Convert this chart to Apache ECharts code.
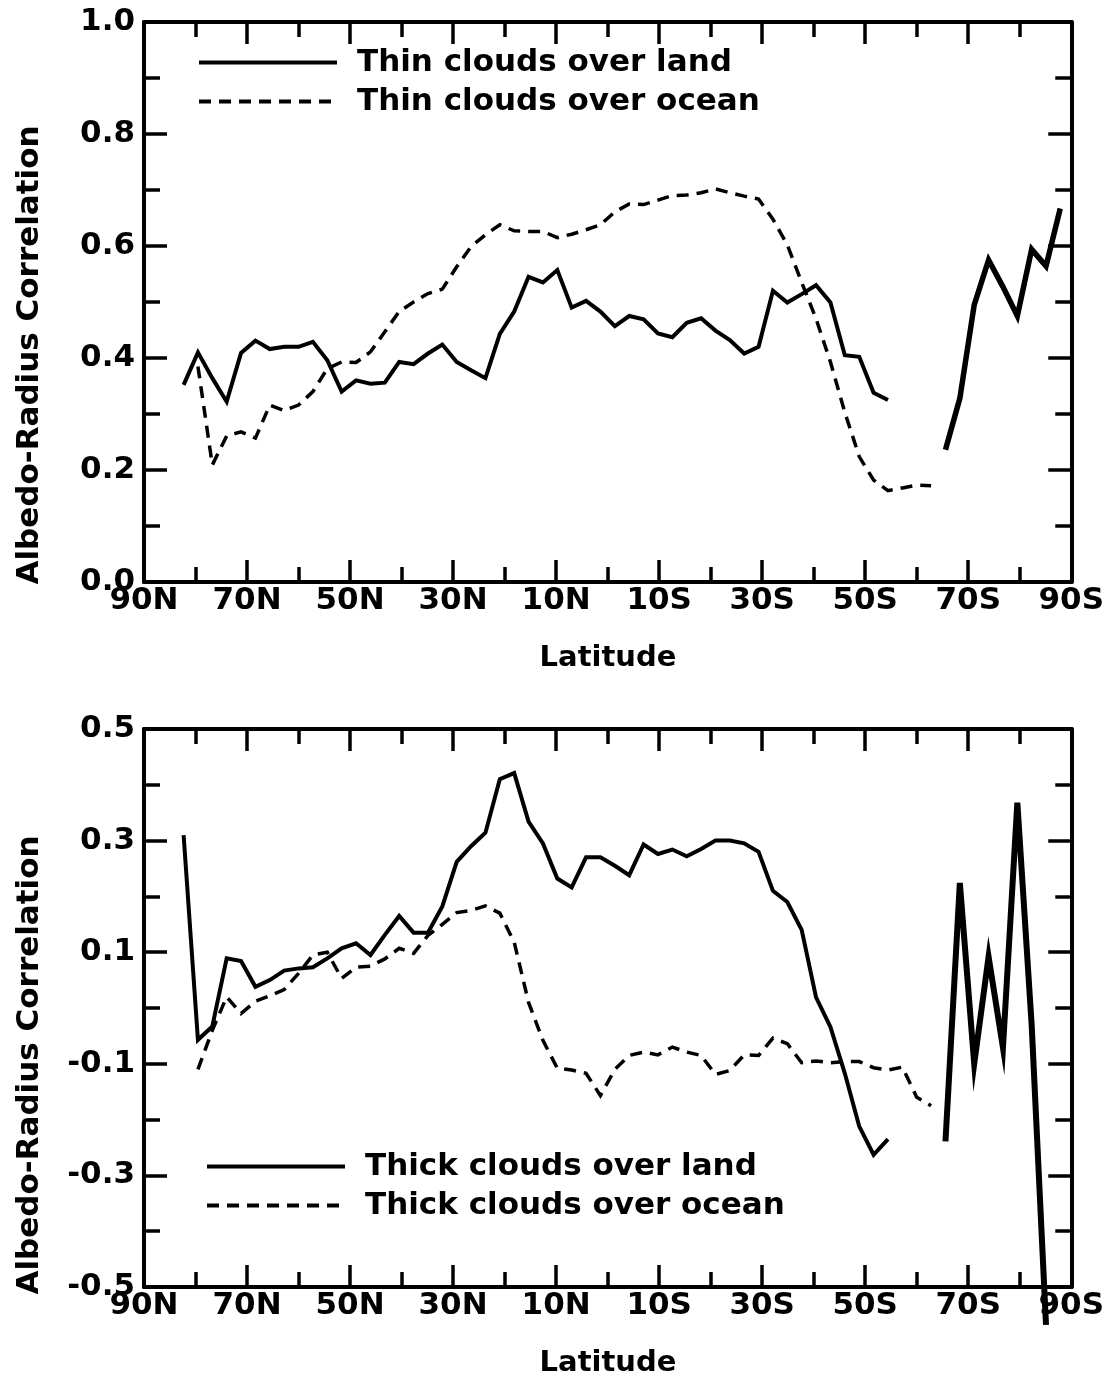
<!DOCTYPE html>
<html>
<head>
<meta charset="utf-8">
<script src="https://cdn.jsdelivr.net/npm/echarts@6/dist/echarts.min.js"></script>
<style>
  html, body { margin: 0; padding: 0; background: #fff; }
  #chart { width: 1107px; height: 1379px; }
</style>
</head>
<body>
<div id="chart"></div>
<script>
// Gaussian-grid latitudes (T42, 64 rows), north to south
const latitudes = [
  87.86, 85.10, 82.31, 79.53, 76.74, 73.95, 71.16, 68.37, 65.58, 62.79,
  60.00, 57.21, 54.42, 51.63, 48.84, 46.04, 43.25, 40.46, 37.67, 34.88,
  32.09, 29.30, 26.51, 23.72, 20.93, 18.14, 15.35, 12.56, 9.77, 6.98,
  4.19, 1.40, -1.40, -4.19, -6.98, -9.77, -12.56, -15.35, -18.14, -20.93,
  -23.72, -26.51, -29.30, -32.09, -34.88, -37.67, -40.46, -43.25, -46.04, -48.84,
  -51.63, -54.42, -57.21, -60.00, -62.79, -65.58, -68.37, -71.16, -73.95, -76.74,
  -79.53, -82.31, -85.10, -87.86
];

// Thin clouds: albedo-radius correlation per latitude row (null = no data)
const thinLand = [
  null, null, 0.352, 0.410, 0.364, 0.322, 0.409, 0.431, 0.416, 0.420,
  0.420, 0.429, 0.396, 0.340, 0.360, 0.354, 0.356, 0.393, 0.389, 0.408,
  0.424, 0.393, 0.378, 0.364, 0.443, 0.483, 0.545, 0.535, 0.557, 0.490,
  0.502, 0.483, 0.457, 0.475, 0.469, 0.444, 0.437, 0.463, 0.471, 0.449,
  0.432, 0.408, 0.420, 0.520, 0.499, 0.514, 0.530, 0.499, 0.405, 0.402,
  0.338, 0.325, null, null, null, 0.236, 0.328, 0.495, 0.575, 0.527,
  0.475, 0.594, 0.564, 0.667
];
const thinOcean = [
  null, null, null, 0.385, 0.209, 0.261, 0.268, 0.257, 0.316, 0.306,
  0.316, 0.340, 0.381, 0.393, 0.392, 0.411, 0.447, 0.483, 0.500, 0.515,
  0.523, 0.563, 0.599, 0.620, 0.638, 0.627, 0.626, 0.626, 0.615, 0.621,
  0.629, 0.638, 0.661, 0.675, 0.674, 0.682, 0.690, 0.691, 0.695, 0.702,
  0.695, 0.689, 0.684, 0.648, 0.602, 0.535, 0.470, 0.393, 0.303, 0.224,
  0.182, 0.163, 0.168, 0.173, 0.172, null, null, null, null, null,
  null, null, null, null
];

// Thick clouds
const thickLand = [
  null, null, 0.310, -0.057, -0.033, 0.089, 0.084, 0.038, 0.050, 0.067,
  0.071, 0.073, 0.089, 0.107, 0.116, 0.095, 0.131, 0.165, 0.135, 0.135,
  0.182, 0.262, 0.290, 0.314, 0.410, 0.421, 0.334, 0.295, 0.232, 0.216,
  0.270, 0.270, 0.255, 0.238, 0.293, 0.276, 0.284, 0.272, 0.285, 0.300,
  0.300, 0.295, 0.280, 0.210, 0.190, 0.140, 0.019, -0.034, -0.117, -0.212,
  -0.263, -0.235, null, null, null, -0.239, 0.224, -0.100, 0.092, -0.071,
  0.368, -0.030, -0.568, null
];
const thickOcean = [
  null, null, null, -0.110, -0.040, 0.020, -0.010, 0.012, 0.022, 0.033,
  0.062, 0.095, 0.100, 0.053, 0.073, 0.075, 0.088, 0.107, 0.098, 0.130,
  0.150, 0.171, 0.175, 0.183, 0.170, 0.118, 0.010, -0.058, -0.108, -0.111,
  -0.117, -0.157, -0.110, -0.085, -0.079, -0.084, -0.070, -0.079, -0.085, -0.119,
  -0.112, -0.084, -0.085, -0.054, -0.064, -0.098, -0.095, -0.098, -0.096, -0.096,
  -0.107, -0.111, -0.106, -0.160, -0.175, null, null, null, null, null,
  null, null, null, null
];

// Axis ranges and ticks
const latTicks = { min: -90, max: 90, step: 20 };
const thinRange = { min: 0.0, max: 1.0, step: 0.2 };
const thickRange = { min: -0.5, max: 0.5, step: 0.2 };

const legendThin = ['Thin clouds over land', 'Thin clouds over ocean'];
const legendThick = ['Thick clouds over land', 'Thick clouds over ocean'];
const yTitle = 'Albedo-Radius Correlation';
const xTitle = 'Latitude';

// first row of the Antarctic land block (drawn with a heavier pen)
const POLAR_START = 55;

const FONT = 'DejaVu Sans';
const INK = '#000';

function pairs(values, from, to) {
  return latitudes.map((lat, i) => {
    const v = values[i];
    return [lat, (v == null || i < from || i > to) ? '-' : v];
  });
}

function latLabel(v) {
  if (v > 0) return v + 'N';
  if (v < 0) return (-v) + 'S';
  return 'EQ';
}

const tickStyle = { color: INK, width: 3.5 };

function xAxes(gridIndex) {
  const base = {
    type: 'value', gridIndex, min: latTicks.min, max: latTicks.max,
    interval: latTicks.step, inverse: true,
    axisLine: { show: true, onZero: false, lineStyle: { color: INK, width: 4 } },
    axisTick: { show: true, inside: true, length: 22, lineStyle: tickStyle },
    minorTick: { show: true, splitNumber: 2, length: 15, lineStyle: tickStyle },
    splitLine: { show: false }
  };
  return [
    Object.assign({}, base, {
      position: 'bottom',
      axisLabel: {
        show: true, margin: 3, formatter: latLabel, color: INK,
        fontFamily: FONT, fontWeight: 'bold', fontSize: 31
      }
    }),
    Object.assign({}, base, { position: 'top', axisLabel: { show: false } })
  ];
}

function yAxes(gridIndex, range) {
  const base = {
    type: 'value', gridIndex, min: range.min, max: range.max, interval: range.step,
    axisLine: { show: true, onZero: false, lineStyle: { color: INK, width: 4 } },
    axisTick: { show: true, inside: true, length: 23, lineStyle: tickStyle },
    minorTick: { show: true, splitNumber: 2, length: 16, lineStyle: tickStyle },
    splitLine: { show: false }
  };
  return [
    Object.assign({}, base, {
      position: 'left',
      axisLabel: {
        show: true, margin: 9, formatter: v => v.toFixed(1), color: INK,
        fontFamily: FONT, fontWeight: 'bold', fontSize: 31
      }
    }),
    Object.assign({}, base, { position: 'right', axisLabel: { show: false } })
  ];
}

function lineSeries(name, values, axisIdx, dashed, width, from, to, clip) {
  return {
    type: 'line', name, xAxisIndex: axisIdx, yAxisIndex: axisIdx,
    data: pairs(values, from, to), symbol: 'none', showSymbol: false,
    connectNulls: false, clip: clip, silent: true, animation: false,
    itemStyle: { color: INK },
    lineStyle: {
      color: INK, width: width, type: dashed ? [12, 8] : 'solid',
      cap: 'butt', join: 'miter'
    }
  };
}

function legendBlock(names, left, top) {
  return {
    data: names, orient: 'vertical', left, top, padding: 0,
    itemWidth: 138, itemHeight: 24, itemGap: 8, selectedMode: false,
    itemStyle: { opacity: 0 },
    lineStyle: { color: INK, width: 4, cap: 'butt' },
    textStyle: {
      color: INK, fontFamily: FONT, fontWeight: 'bold', fontSize: 31,
      lineHeight: 30, padding: [0, 0, 0, 15]
    }
  };
}

function titleText(text, x, y, rotate, size) {
  return {
    type: 'text', x, y, rotation: rotate ? Math.PI / 2 : 0, silent: true,
    style: {
      text, fill: INK, font: 'bold ' + size + 'px "' + FONT + '"',
      align: 'center', verticalAlign: 'middle'
    }
  };
}

const chart = echarts.init(document.getElementById('chart'), null, { renderer: 'canvas' });

chart.setOption({
  backgroundColor: '#fff',
  animation: false,
  grid: [
    { left: 144, top: 22, width: 928, height: 560 },
    { left: 144, top: 729, width: 928, height: 558 }
  ],
  xAxis: [...xAxes(0), ...xAxes(1)],
  yAxis: [...yAxes(0, thinRange), ...yAxes(1, thickRange)],
  legend: [legendBlock(legendThin, 197, 47), legendBlock(legendThick, 205, 1151)],
  series: [
    lineSeries(legendThin[0], thinLand, 0, false, 4, 0, POLAR_START - 1, true),
    lineSeries(legendThin[0], thinLand, 0, false, 5.5, POLAR_START, 63, true),
    lineSeries(legendThin[1], thinOcean, 0, true, 3.5, 0, 63, true),
    lineSeries(legendThick[0], thickLand, 2, false, 4, 0, POLAR_START - 1, false),
    lineSeries(legendThick[0], thickLand, 2, false, 6, POLAR_START, 63, false),
    lineSeries(legendThick[1], thickOcean, 2, true, 3.5, 0, 63, true)
  ],
  graphic: [
    titleText(yTitle, 30, 355, true, 31),
    titleText(yTitle, 30, 1065, true, 31),
    titleText(xTitle, 608, 658, false, 29),
    titleText(xTitle, 608, 1363, false, 29)
  ]
});
</script>
</body>
</html>
